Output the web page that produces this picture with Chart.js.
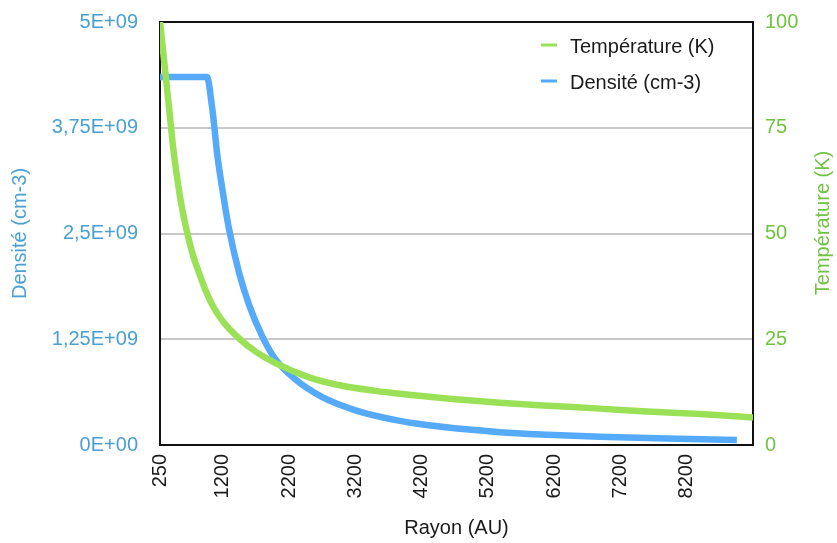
<!DOCTYPE html>
<html>
<head>
<meta charset="utf-8">
<script src="https://cdn.jsdelivr.net/npm/chart.js@4/dist/chart.umd.min.js"></script>
<style>
  html, body { margin: 0; padding: 0; background: #fff; }
  canvas { display: block; }
</style>
</head>
<body>
<canvas id="chart" width="837" height="543"></canvas>
<script>
// temperature profile (K) vs radius (AU)
const rayonTemp = [250, 300, 350, 416, 450, 552, 657, 750, 839, 950, 1050, 1200, 1457, 1700, 1985, 2500, 3000, 3500, 3872, 4500, 5381, 6100, 6890, 7600, 8400, 9200];
const temperature = [100, 92.6, 85.2, 75.2, 70.1, 58.7, 50.4, 44.7, 40.7, 36.1, 32.8, 29.2, 25.0, 22.0, 19.4, 16.0, 14.0, 12.8, 12.1, 11.1, 10.0, 9.3, 8.6, 7.9, 7.3, 6.5];

// density profile (cm-3) vs radius (AU)
const rayonDens = [250, 500, 750, 959, 1035, 1065, 1110, 1200, 1290, 1442, 1593, 1790, 1985, 2300, 2700, 3200, 3872, 4500, 5381, 6100, 6890, 7900, 8957];
const densite = [4.35e9, 4.35e9, 4.35e9, 4.35e9, 4.0e9, 3.8e9, 3.46e9, 2.98e9, 2.56e9, 2.04e9, 1.66e9, 1.29e9, 1.02e9, 0.77e9, 0.565e9, 0.41e9, 0.285e9, 0.215e9, 0.152e9, 0.122e9, 0.098e9, 0.076e9, 0.059e9];

// tick labels
const rayonTicks = [250, 1200, 2200, 3200, 4200, 5200, 6200, 7200, 8200];
const densTickLabels = ["0E+00", "1,25E+09", "2,5E+09", "3,75E+09", "5E+09"];
const tempTickLabels = ["0", "25", "50", "75", "100"];

const colors = {
  blueLine: "rgb(85, 170, 250)",
  blueText: "rgb(74, 160, 210)",
  greenLine: "rgb(155, 225, 88)",
  greenText: "rgb(112, 195, 66)",
  grid: "rgb(200, 200, 200)",
  text: "#1a1a1a",
};

const FONT = "'Liberation Sans', Arial, Helvetica, sans-serif";
Chart.defaults.font.family = FONT;
Chart.defaults.font.size = 20;

// black frame round the plot area
const framePlugin = {
  id: "frame",
  beforeDatasetsDraw(chart) {
    const { ctx, chartArea: a } = chart;
    ctx.save();
    ctx.strokeStyle = "#111";
    ctx.lineWidth = 2;
    ctx.strokeRect(a.left, a.top, a.right - a.left, a.bottom - a.top);
    ctx.restore();
  },
};

// legend in the top right corner + right axis title reading upwards
const extrasPlugin = {
  id: "extras",
  afterDraw(chart) {
    const { ctx } = chart;
    ctx.save();
    ctx.font = "20px " + FONT;
    ctx.textBaseline = "middle";
    chart.data.datasets.forEach((ds, i) => {
      const y = 45 + i * 36;
      ctx.strokeStyle = ds.borderColor;
      ctx.lineWidth = 3;
      ctx.beginPath();
      ctx.moveTo(541, y);
      ctx.lineTo(557, y);
      ctx.stroke();
      ctx.fillStyle = colors.text;
      ctx.textAlign = "left";
      ctx.fillText(ds.label, 570, y + 2);
    });
    ctx.translate(823, 223);
    ctx.rotate(-Math.PI / 2);
    ctx.textAlign = "center";
    ctx.fillStyle = colors.greenText;
    ctx.fillText("Température (K)", 0, 0);
    ctx.restore();
  },
};

// keep the plot area where the reference has it
const fixY = (w) => (scale) => {
  scale.width = w;
  scale.paddingTop = 0;
  scale.paddingBottom = 0;
};

new Chart(document.getElementById("chart"), {
  type: "line",
  data: {
    datasets: [
      {
        label: "Température (K)",
        data: rayonTemp.map((r, i) => ({ x: r, y: temperature[i] })),
        yAxisID: "y1",
        borderColor: colors.greenLine,
        borderWidth: 6.5,
        pointRadius: 0,
        cubicInterpolationMode: "monotone",
        fill: false,
      },
      {
        label: "Densité (cm-3)",
        data: rayonDens.map((r, i) => ({ x: r, y: densite[i] })),
        yAxisID: "y",
        borderColor: colors.blueLine,
        borderWidth: 6.5,
        pointRadius: 0,
        cubicInterpolationMode: "monotone",
        fill: false,
      },
    ],
  },
  options: {
    responsive: false,
    animation: false,
    devicePixelRatio: 1,
    layout: { padding: { top: 22, left: 0, right: 0, bottom: 0 } },
    plugins: { legend: { display: false }, tooltip: { enabled: false } },
    scales: {
      x: {
        type: "linear",
        min: 250,
        max: 9200,
        afterBuildTicks: (scale) => {
          scale.ticks = rayonTicks.map((v) => ({ value: v }));
        },
        afterFit: (scale) => {
          scale.height = 98;
        },
        grid: { display: false, drawTicks: false },
        border: { display: false },
        ticks: {
          autoSkip: false,
          minRotation: 90,
          maxRotation: 90,
          padding: 9,
          color: colors.text,
          callback: (v) => String(v),
        },
        title: {
          display: true,
          text: "Rayon (AU)",
          color: colors.text,
          padding: { top: 0, bottom: 3 },
        },
      },
      y: {
        position: "left",
        min: 0,
        max: 5e9,
        afterBuildTicks: (scale) => {
          scale.ticks = densTickLabels.map((_, i) => ({ value: i * 1.25e9 }));
        },
        afterFit: fixY(160),
        grid: {
          drawTicks: false,
          lineWidth: 2,
          color: (c) => (c.index === 0 || c.index === 4 ? "rgba(0,0,0,0)" : colors.grid),
        },
        border: { display: false },
        ticks: {
          padding: 22,
          color: colors.blueText,
          callback: (v, i) => densTickLabels[i],
        },
        title: {
          display: true,
          text: "Densité (cm-3)",
          color: colors.blueText,
          padding: { top: 8, bottom: 0 },
        },
      },
      y1: {
        position: "right",
        min: 0,
        max: 100,
        afterBuildTicks: (scale) => {
          scale.ticks = tempTickLabels.map((_, i) => ({ value: i * 25 }));
        },
        afterFit: fixY(84),
        grid: { display: false, drawTicks: false },
        border: { display: false },
        ticks: {
          padding: 12,
          color: colors.greenText,
          callback: (v, i) => tempTickLabels[i],
        },
      },
    },
  },
  plugins: [framePlugin, extrasPlugin],
});
</script>
</body>
</html>
